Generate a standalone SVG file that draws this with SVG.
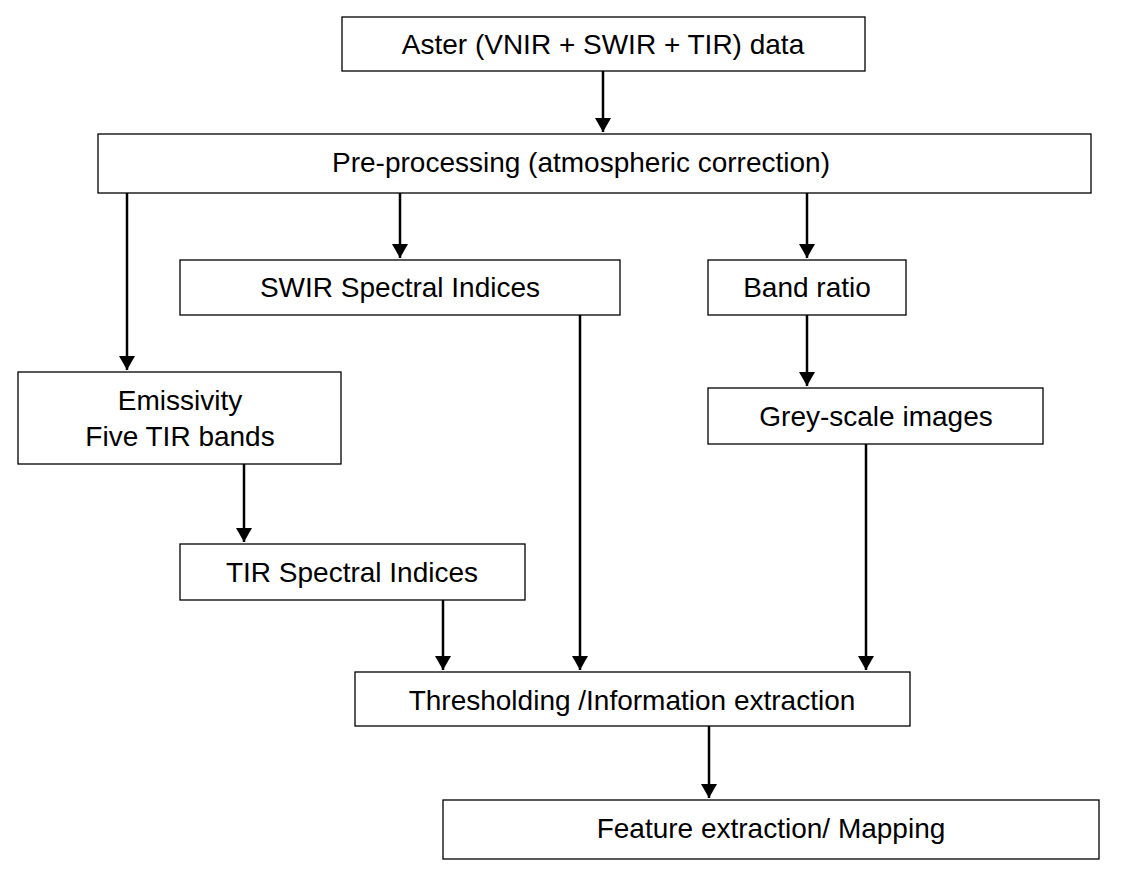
<svg xmlns="http://www.w3.org/2000/svg" width="1122" height="883" viewBox="0 0 1122 883">
<style>
rect{fill:#fff;stroke:#000;stroke-width:1.3}
text{font-family:"Liberation Sans",Arial,sans-serif;font-size:28px;text-anchor:middle;fill:#000}
line{stroke:#000;stroke-width:2.5}
</style>
<defs><marker id="a" viewBox="0 0 10 10" refX="10" refY="5" markerWidth="5" markerHeight="5" orient="auto" markerUnits="userSpaceOnUse" style="overflow:visible"><path d="M0,0L10,5L0,10z"/></marker>
<marker id="h" markerWidth="14" markerHeight="16" refX="14" refY="8" orient="auto" markerUnits="userSpaceOnUse"><path d="M0,0L14,8L0,16z" fill="#000"/></marker></defs>
<rect width="1122" height="883" style="stroke:none"/>
<g id="n1"><rect x="342" y="17" width="523" height="54"/><text x="603" y="54">Aster (VNIR + SWIR + TIR) data</text></g>
<g id="n2"><rect x="98" y="134" width="993" height="59"/><text x="581" y="172">Pre-processing (atmospheric correction)</text></g>
<g id="n3"><rect x="180" y="260" width="440" height="55"/><text x="400" y="297">SWIR Spectral Indices</text></g>
<g id="n4"><rect x="708" y="260" width="198" height="55"/><text x="807" y="297">Band ratio</text></g>
<g id="n5"><rect x="18" y="372" width="323" height="92"/><text x="180" y="410">Emissivity</text><text x="180" y="446">Five TIR bands</text></g>
<g id="n6"><rect x="708" y="388" width="335" height="56"/><text x="876" y="426">Grey-scale images</text></g>
<g id="n7"><rect x="180" y="544" width="345" height="56"/><text x="352" y="582">TIR Spectral Indices</text></g>
<g id="n8"><rect x="355" y="672" width="555" height="54"/><text x="632" y="710">Thresholding /Information extraction</text></g>
<g id="n9"><rect x="443" y="800" width="656" height="59"/><text x="771" y="838">Feature extraction/ Mapping</text></g>
<g id="edges">
<line x1="603" y1="71" x2="603" y2="132" marker-end="url(#h)"/>
<line x1="127" y1="193" x2="127" y2="370" marker-end="url(#h)"/>
<line x1="400" y1="193" x2="400" y2="258" marker-end="url(#h)"/>
<line x1="807" y1="193" x2="807" y2="258" marker-end="url(#h)"/>
<line x1="807" y1="315" x2="807" y2="386" marker-end="url(#h)"/>
<line x1="580" y1="315" x2="580" y2="670" marker-end="url(#h)"/>
<line x1="244" y1="464" x2="244" y2="542" marker-end="url(#h)"/>
<line x1="443" y1="600" x2="443" y2="670" marker-end="url(#h)"/>
<line x1="866" y1="444" x2="866" y2="670" marker-end="url(#h)"/>
<line x1="709" y1="726" x2="709" y2="798" marker-end="url(#h)"/>
</g>
</svg>
